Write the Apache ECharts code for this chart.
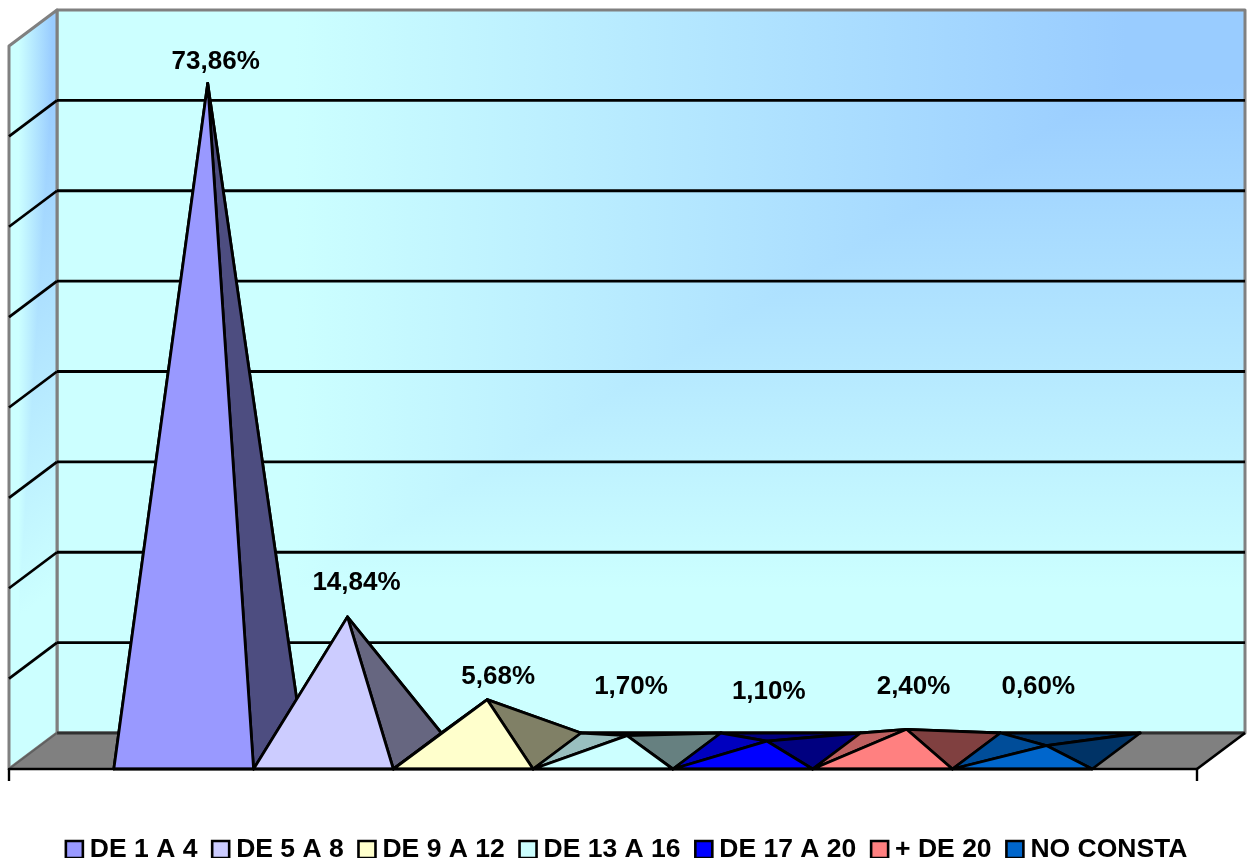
<!DOCTYPE html>
<html>
<head>
<meta charset="utf-8">
<style>html,body{margin:0;padding:0;background:#fff}#c{width:1252px;height:858px}</style>
<script src="https://cdn.jsdelivr.net/npm/echarts@6/dist/echarts.min.js"></script>
</head>
<body>
<div id="c"></div>
<script>
const categories = ['DE 1 A 4','DE 5 A 8','DE 9 A 12','DE 13 A 16','DE 17 A 20','+ DE 20','NO CONSTA'];
const values = [73.86,14.84,5.68,1.70,1.10,2.40,0.60];
const colors = ['#9999FF','#CCCCFF','#FFFFCC','#CCFFFF','#0000FF','#FF8080','#0066CC'];
const gridValues = [10,20,30,40,50,60,70];

const labelNudge = [[8,-22],[9,-34],[11,-23],[4,-49],[2,-49],[7,-42],[-8,-59]];
const DEPTH_X = 48, DEPTH_Y = 36, GAP = 0.75, LW = 2.8;
const FONT = '"Liberation Sans", Arial, sans-serif';

function shade(hex, f){
  const n = parseInt(hex.slice(1),16);
  const c = [n>>16&255, n>>8&255, n&255].map(v=>Math.round(v*f));
  return `rgb(${c[0]},${c[1]},${c[2]})`;
}
function poly(points, fill, stroke, lw){
  return {type:'polygon', shape:{points}, style:{fill, stroke:stroke||'#000', lineWidth:lw==null?LW:lw, lineJoin:'round'}};
}
function flat(points, fill){
  return {type:'polygon', shape:{points}, style:{fill}};
}
function seg(a, b, stroke, lw){
  return {type:'line', shape:{x1:a[0],y1:a[1],x2:b[0],y2:b[1]}, style:{stroke, lineWidth:lw}};
}
function grad(a, b){
  return {type:'linear',global:true,x:a[0],y:a[1],x2:b[0],y2:b[1],colorStops:[
    {offset:0,color:'#99CCFF'},{offset:0.1,color:'#99CCFF'},{offset:0.8,color:'#CCFFFF'},{offset:1,color:'#CCFFFF'}]};
}

function renderWalls(params, api){
  const band = api.size([1,0])[0];
  const cx = api.coord([0,0])[0];
  const y0 = api.coord([0,0])[1], yTop = api.coord([0,80])[1];
  const L = cx-band/2, R = cx+band/2;
  const ch = [];
  const bTL=[L+DEPTH_X,yTop-DEPTH_Y], bTR=[R+DEPTH_X,yTop-DEPTH_Y], bBR=[R+DEPTH_X,y0-DEPTH_Y], bBL=[L+DEPTH_X,y0-DEPTH_Y];
  const fT=[L,yTop], fB=[L,y0];
  // back wall: gradient spreading from the top right corner with rectangular contours
  ch.push(flat([bTL,bTR,bBR,bBL],grad(bTR,bBR)));
  ch.push(flat([bTL,bTR,bBL],grad(bTR,bTL)));
  ch.push(poly([bTL,bTR,bBR,bBL],'none','#808080',3));
  // side wall: the same fill, skewed with the depth direction
  const h = y0-yTop, len = Math.hypot(DEPTH_X,DEPTH_Y), nx = DEPTH_Y/len, ny = DEPTH_X/len, proj = h*ny;
  ch.push(flat([fT,bTL,bBL,fB],grad(bTL,[bTL[0]+nx*proj,bTL[1]+ny*proj])));
  ch.push(flat([fT,bTL,fB],grad(bTL,[L,bTL[1]])));
  ch.push(poly([fT,bTL,bBL,fB],'none','#808080',3));
  gridValues.forEach(v=>{
    const y = api.coord([0,v])[1];
    ch.push(seg([L,y],[L+DEPTH_X,y-DEPTH_Y],'#000',LW));
    ch.push(seg([L+DEPTH_X,y-DEPTH_Y],[R+DEPTH_X,y-DEPTH_Y],'#000',LW));
  });
  ch.push(flat([[L,y0],bBL,bBR,[R,y0]],'#808080'));
  ch.push(seg(bBL,bBR,'#303030',LW));
  ch.push(seg([R,y0],bBR,'#000',LW));
  ch.push(seg([L,y0],bBL,'#606060',2));
  return {type:'group',children:ch};
}

function renderPyramid(i){
  return function(params, api){
    const v = api.value(1);
    const band = api.size([1,0])[0];
    const cx = api.coord([0,0])[0];
    const y0 = api.coord([0,0])[1];
    const yV = api.coord([0,v])[1];
    const unit = band/(categories.length+2*GAP);
    const x1 = cx-band/2+unit*(GAP+i), x2 = x1+unit;
    const apex = [(x1+x2)/2+DEPTH_X/2, yV-DEPTH_Y/2];
    const fl=[x1,y0], fr=[x2,y0], bl=[x1+DEPTH_X,y0-DEPTH_Y], br=[x2+DEPTH_X,y0-DEPTH_Y];
    const col = colors[i];
    const n = labelNudge[i];
    return {type:'group',children:[
      poly([bl,br,apex],shade(col,0.5)),
      poly([fl,bl,apex],shade(col,0.75)),
      poly([fr,br,apex],shade(col,0.5)),
      poly([fl,fr,apex],col),
      {type:'text',style:{text:v.toFixed(2).replace('.',',')+'%',x:apex[0]+n[0],y:apex[1]+n[1],
        align:'center',verticalAlign:'middle',fill:'#000',font:'bold 26px '+FONT}}
    ]};
  };
}

const series = [{
  type:'custom',name:'walls',silent:true,renderItem:renderWalls,data:[[0,0]],encode:{x:0,y:1},
  clip:false,z:1,legendHoverLink:false
}].concat(categories.map((name,i)=>({
  type:'custom',name,renderItem:renderPyramid(i),data:[[0,values[i]]],encode:{x:0,y:1},
  clip:false,z:3,itemStyle:{color:colors[i]}
})));

const chart = echarts.init(document.getElementById('c'),null,{renderer:'canvas'});
chart.setOption({
  animation:false,
  backgroundColor:'#fff',
  textStyle:{fontFamily:FONT},
  grid:{left:9,right:55,top:46,bottom:89,containLabel:false},
  xAxis:{type:'category',data:[''],boundaryGap:true,
    axisLine:{show:true,lineStyle:{color:'#000',width:2.4}},
    axisTick:{show:true,length:12,lineStyle:{color:'#000',width:2.4}},
    axisLabel:{show:false},splitLine:{show:false},z:5},
  yAxis:{type:'value',min:0,max:80,interval:10,axisLine:{show:false},axisTick:{show:false},axisLabel:{show:false},splitLine:{show:false}},
  legend:{data:categories,top:831,left:'center',icon:'rect',itemWidth:17,itemHeight:17,itemGap:13.5,
    itemStyle:{borderColor:'#000',borderWidth:2.6},
    selectedMode:false,
    textStyle:{color:'#000',fontFamily:FONT,fontWeight:'bold',fontSize:26.5,padding:[0,0,0,2]}},
  tooltip:{show:false},
  series
});
</script>
</body>
</html>
